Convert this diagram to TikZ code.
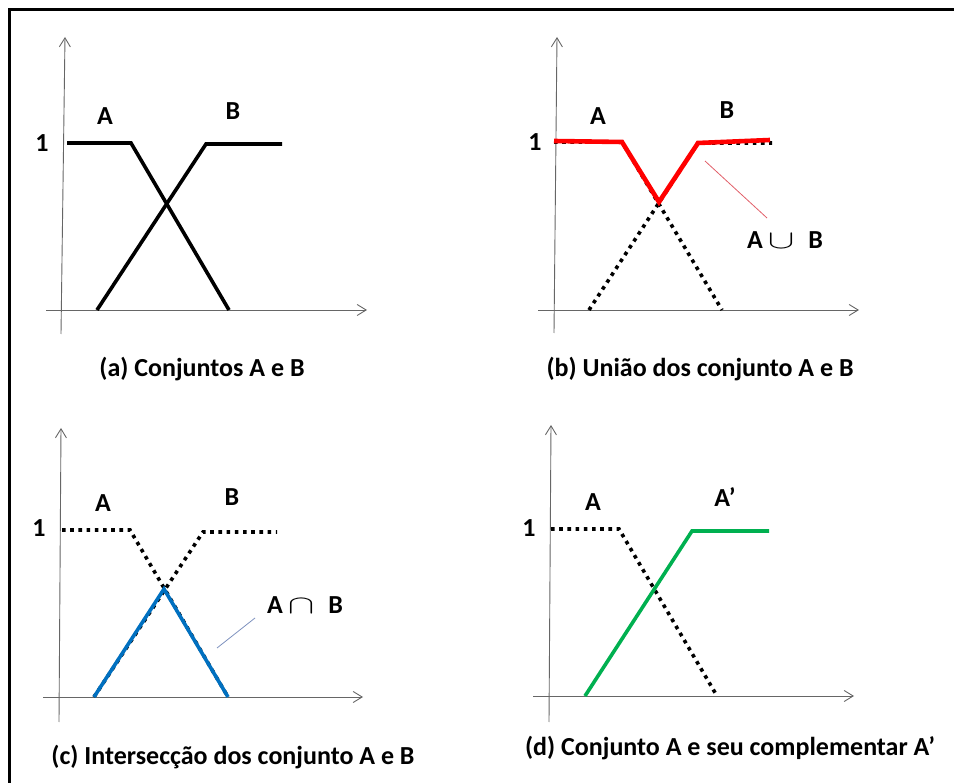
\documentclass[tikz,border=0pt]{standalone}
\usepackage{fontspec}
\setmainfont{Carlito}
\usetikzlibrary{arrows.meta,positioning}
\definecolor{unired}{RGB}{255,0,0}
\definecolor{interblue}{RGB}{0,112,192}
\definecolor{compgreen}{RGB}{0,176,80}
\definecolor{leadred}{RGB}{225,95,105}
\definecolor{leadblue}{RGB}{125,145,190}

\begin{document}
\begin{tikzpicture}[x=1pt,y=-1pt,
  axis/.style={draw=black!60,line width=0.9pt,-{Straight Barb[length=9pt,width=11pt]}},
  mf/.style={line width=3.6pt,line join=miter},
  mfdot/.style={line width=3.6pt,dash pattern=on 3.6pt off 4.6pt},
  lbl/.style={font=\fontsize{26}{30}\selectfont\bfseries,inner sep=0pt},
  captxt/.style={font=\fontsize{26}{30}\selectfont\bfseries,inner sep=0pt}]
\useasboundingbox (0,0) rectangle (954,783);
\draw[line width=3pt] (9,783) -- (9,10) -- (954,10);
% axes of the four panels
\foreach \p/\xa/\xb/\xy/\yxb/\yb/\yxt/\yt in {a/46/367/310/61/334/65/37,b/538/859/310/554/333/557/37,
  c/43/363/697/59/722/61/428,d/533/854/696/549/722/551/425}{
  \draw[axis] (\xa,\xy) -- (\xb,\xy);
  \draw[axis] (\yxb,\yb) -- (\yxt,\yt);}
% (a) sets A and B
\draw[mf] (67,143) -- (131,143) -- (229,310);
\draw[mf] (97,310) -- (206,144) -- (282,144);
\node[lbl] (a1) at (42,143) {1};
\node[lbl] (aA) at (105,116) {A};
\node[lbl] (aB) at (233,111) {B};
\node[captxt] (acap) at (202,369) {(a) Conjuntos A e B};
% (b) union
\draw[mfdot] (554,142) -- (622,142) -- (722,310);
\draw[mfdot] (589,310) -- (698,143) -- (772,143);
\draw[mf,unired,line width=4.6pt] (554,141) -- (622,142) -- (659,202) -- (698,143) -- (770,140);
\node[lbl] (b1) at (535,142) {1};
\node[lbl] (bA) at (598,116) {A};
\node[lbl] (bB) at (727,110) {B};
\node[lbl] (bU) at (785,240) {A\hspace{5pt}\scalebox{1.6}[1.05]{$\cup$}\hspace{14pt}B};
\coordinate (bU0) at (705,161);
\draw[leadred,line width=0.8pt] (bU0) -- (767,218);
\node[captxt] (bcap) at (700,369) {(b) União dos conjunto A e B};
% (c) intersection
\draw[mfdot] (62,530) -- (130,530) -- (228,697);
\draw[mfdot] (94,697) -- (203,532) -- (277,532);
\draw[mf,interblue] (94,697) -- (164,589) -- (228,697);
\node[lbl] (c1) at (39,528) {1};
\node[lbl] (cA) at (103,503) {A};
\node[lbl] (cB) at (232,497) {B};
\node[lbl] (cI) at (305,605) {A\hspace{5pt}\scalebox{1.6}[1.05]{$\cap$}\hspace{14pt}B};
\coordinate (cI0) at (217,648);
\draw[leadblue,line width=0.8pt] (cI0) -- (255,618);
\node[captxt] (ccap) at (233,757) {(c) Intersecção dos conjunto A e B};
% (d) complement
\draw[mfdot] (551,529) -- (619,529) -- (717,696);
\draw[mf,compgreen] (585,696) -- (692,531) -- (769,531);
\node[lbl] (d1) at (529,528) {1};
\node[lbl] (dA) at (593,502) {A};
\node[lbl] (dC) at (725,497) {A’};
\node[captxt] (dcap) at (730,748) {(d) Conjunto A e seu complementar A’};
\end{tikzpicture}
\end{document}
